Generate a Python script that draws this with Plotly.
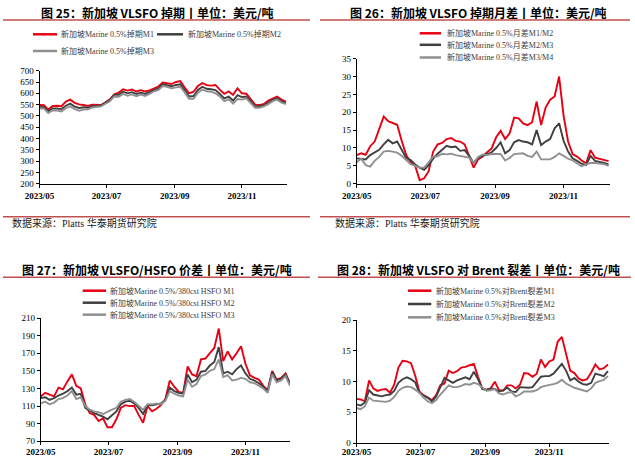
import pandas as pd
import plotly.graph_objects as go

W, H = 635, 457

# ---------------- data ----------------
dates_a = pd.date_range("2023-05-01", periods=57, freq="4D")   # panels 25-27
dates_b = pd.date_range("2023-05-01", periods=61, freq="4D")   # panel 28

tick_vals = ["2023-05-01", "2023-07-01", "2023-09-01", "2023-11-01"]
tick_text = ["2023/05", "2023/07", "2023/09", "2023/11"]

# Fig 25: Singapore VLSFO swaps (USD/t)
p1_m1 = [548, 547, 528, 544, 545, 543, 563, 572, 558, 551,
         548, 544, 550, 548, 548, 560, 573, 596, 603, 618,
         612, 617, 608, 614, 608, 613, 620, 630, 648, 646,
         641, 650, 654, 625, 600, 607, 632, 645, 636, 634,
         637, 615, 598, 608, 593, 622, 600, 598, 572, 550,
         548, 553, 568, 578, 585, 572, 563]
p1_m2 = [540, 539, 520, 533, 533, 530, 545, 554, 541, 535,
         538, 536, 544, 543, 547, 558, 570, 593, 593, 607,
         600, 605, 597, 603, 597, 605, 615, 622, 640, 637,
         631, 637, 640, 613, 586, 588, 615, 629, 620, 618,
         614, 597, 577, 585, 568, 592, 583, 586, 563, 542,
         542, 547, 559, 571, 578, 565, 557]
p1_m3 = [533, 532, 513, 525, 524, 520, 534, 542, 530, 523,
         528, 529, 537, 538, 542, 554, 565, 586, 585, 597,
         589, 595, 587, 594, 588, 597, 609, 614, 632, 629,
         622, 626, 629, 604, 576, 576, 603, 617, 609, 607,
         600, 586, 565, 573, 554, 575, 572, 578, 556, 536,
         536, 542, 552, 565, 572, 559, 552]

# Fig 26: Singapore VLSFO swap time spreads (USD/t)
p2_s12 = [8.0, 8.5, 8.1, 10.5, 11.8, 15.5, 18.8, 17.5, 17.0, 16.5,
          12.0, 8.0, 6.0, 5.0, 1.0, 1.5, 3.5, 9.0, 11.0, 11.4,
          12.5, 12.8, 12.0, 11.8, 11.0, 7.6, 4.5, 6.8, 7.6, 8.8,
          9.9, 13.0, 14.8, 12.5, 14.1, 18.5, 18.3, 16.9, 16.4, 17.2,
          23.0, 16.4, 21.3, 23.5, 24.4, 30.0, 19.0, 11.8, 8.3, 7.6,
          6.5, 5.7, 9.4, 7.3, 7.0, 6.7, 6.3]
p2_s23 = [7.1, 7.0, 6.8, 8.0, 8.7, 9.5, 11.0, 12.3, 11.3, 11.8,
          9.5, 7.2, 6.6, 5.4, 4.5, 3.9, 5.2, 7.0, 8.4, 9.5,
          10.6, 10.2, 10.4, 9.2, 9.4, 7.8, 5.8, 7.2, 7.8, 8.4,
          8.8, 10.0, 11.6, 8.5, 9.4, 11.6, 12.2, 11.8, 11.6, 11.0,
          15.0, 10.8, 11.8, 12.5, 15.5, 16.9, 12.0, 9.0, 7.1, 6.4,
          5.6, 5.2, 7.8, 6.4, 6.2, 5.8, 5.4]
p2_s34 = [6.0, 7.0, 5.2, 4.8, 6.4, 7.5, 9.0, 9.2, 9.0, 8.7,
          7.8, 6.6, 5.5, 5.0, 4.5, 4.5, 6.0, 7.6, 7.7, 8.4,
          8.2, 8.4, 8.0, 7.8, 7.6, 7.3, 5.8, 7.5, 8.2, 8.0,
          8.3, 8.3, 8.3, 6.5, 7.2, 8.3, 8.5, 8.5, 7.8, 7.5,
          9.0, 6.8, 6.8, 6.8, 7.5, 8.5, 7.8, 7.0, 6.5, 5.8,
          4.9, 5.4, 5.8, 5.8, 5.7, 5.5, 5.0]

# Fig 27: Singapore VLSFO/HSFO spread (USD/t)
p3_m1 = [121, 125, 123, 121, 131, 129, 138, 146, 133, 130,
         112, 102, 100, 93, 96, 86, 86, 95, 108, 111,
         110, 110, 100, 91, 110, 104, 107, 111, 118, 139,
         132, 126, 125, 155, 146, 144, 163, 164, 170, 176,
         198, 161, 172, 163, 170, 178, 158, 145, 142, 140,
         133, 128, 150, 140, 142, 147, 136]
p3_m2 = [119, 120, 117, 119, 122, 124, 127, 131, 123, 124,
         108, 105, 102, 100, 98, 95, 100, 104, 112, 115,
         116, 113, 108, 101, 111, 111, 112, 113, 117, 131,
         127, 125, 124, 146, 137, 140, 149, 150, 156, 160,
         177, 147, 149, 146, 152, 156, 147, 141, 139, 136,
         132, 127, 149, 139, 141, 146, 135]
p3_m3 = [113, 115, 112, 114, 118, 119, 122, 127, 118, 120,
         110, 106, 104, 103, 101, 104, 106, 108, 115, 117,
         118, 115, 110, 106, 112, 112, 113, 112, 116, 127,
         124, 122, 121, 140, 132, 135, 144, 146, 150, 152,
         163, 143, 145, 139, 140, 142, 141, 137, 136, 133,
         130, 125, 146, 137, 139, 144, 133]

# Fig 28: Singapore VLSFO crack vs Brent (USD/bbl)
p4_m1 = [7.2, 7.1, 6.8, 10.2, 8.9, 8.5, 8.7, 8.8, 8.2, 9.5,
         12.3, 13.4, 13.3, 13.0, 11.0, 8.4, 7.8, 7.4, 7.0, 7.8,
         9.4, 9.7, 11.8, 11.4, 11.7, 12.3, 12.4, 12.7, 12.9, 10.8,
         8.9, 8.7, 8.9, 10.0, 8.6, 8.5, 9.4, 9.4, 8.9, 9.5,
         11.4, 11.3, 10.8, 11.3, 13.6, 12.4, 13.3, 13.6, 16.5, 17.3,
         14.5, 11.8, 11.4, 10.5, 10.2, 10.4, 11.5, 12.8, 12.0, 12.2,
         12.8]
p4_m2 = [6.3, 6.1, 6.6, 8.6, 7.9, 7.7, 7.6, 7.8, 7.9, 8.5,
         9.8, 10.4, 10.7, 10.4, 9.9, 8.2, 7.7, 7.4, 6.8, 7.6,
         9.2, 10.6, 10.2, 9.8, 10.2, 10.4, 10.7, 10.4, 11.6, 10.4,
         8.8, 8.6, 8.9, 8.8, 8.4, 8.6, 9.0, 8.4, 8.3, 9.1,
         9.0, 9.0, 9.1, 9.9, 10.8, 10.9, 10.9, 11.3, 12.2, 12.9,
         11.8, 10.2, 10.6, 10.0, 9.6, 9.5, 9.8, 11.3, 11.1, 10.9,
         11.7]
p4_m3 = [5.7, 5.5, 6.0, 7.4, 6.9, 6.8, 6.8, 6.7, 6.9, 7.5,
         8.5, 9.0, 9.2, 9.1, 8.7, 8.2, 7.4, 6.8, 6.5, 7.0,
         7.9, 8.7, 9.4, 9.1, 9.1, 9.3, 9.6, 9.5, 9.8, 9.6,
         9.0, 8.5, 8.6, 8.8, 8.1, 7.9, 8.2, 8.3, 7.6, 7.9,
         8.4, 8.4, 8.4, 8.6, 9.1, 9.3, 9.4, 9.6, 9.8, 10.3,
         9.7, 9.3, 9.0, 8.8, 8.6, 8.4, 8.9, 9.8, 10.1, 10.3,
         10.9]

names1 = ["新加坡Marine 0.5%掉期M1", "新加坡Marine 0.5%掉期M2", "新加坡Marine 0.5%掉期M3"]
names2 = ["新加坡Marine 0.5%月差M1/M2", "新加坡Marine 0.5%月差M2/M3", "新加坡Marine 0.5%月差M3/M4"]
names3 = ["新加坡Marine 0.5%/380cst HSFO M1", "新加坡Marine 0.5%/380cst HSFO M2",
          "新加坡Marine 0.5%/380cst HSFO M3"]
names4 = ["新加坡Marine 0.5%对Brent裂差M1", "新加坡Marine 0.5%对Brent裂差M2", "新加坡Marine 0.5%对Brent裂差M3"]

titles = ["图 25：新加坡 VLSFO 掉期丨单位：美元/吨",
          "图 26：新加坡 VLSFO 掉期月差丨单位：美元/吨",
          "图 27：新加坡 VLSFO/HSFO 价差丨单位：美元/吨",
          "图 28：新加坡 VLSFO 对 Brent 裂差丨单位：美元/吨"]
source_text = "数据来源：Platts 华泰期货研究院"

# ---------------- styling ----------------
COLORS = ["#E60012", "#404040", "#909090"]
RULE = "#C0504D"
SERIF = "Liberation Serif, Noto Sans CJK SC, serif"
SANS = "Noto Sans CJK SC, sans-serif"


def px(x):
    return x / W


def py(y):
    return 1 - y / H


panels = [
    dict(xd=(39.5, 287), yd=(70.7, 183.7), xr=["2023-05-01", "2023-12-12"], yr=[200, 700], dt=50,
         dates=dates_a, series=[p1_m1, p1_m2, p1_m3], names=names1, so=0),
    dict(xd=(356.7, 609.7), yd=(58.7, 183.7), xr=["2023-05-01", "2023-12-12"], yr=[0, 35], dt=5,
         dates=dates_a, series=[p2_s12, p2_s23, p2_s34], names=names2, so=0),
    dict(xd=(40.7, 290), yd=(318, 441.3), xr=["2023-05-01", "2023-12-11"], yr=[70, 210], dt=20,
         dates=dates_a, series=[p3_m1, p3_m2, p3_m3], names=names3, so=-1),
    dict(xd=(356.5, 609), yd=(320.3, 443), xr=["2023-05-01", "2023-12-28"], yr=[0, 20], dt=5,
         dates=dates_b, series=[p4_m1, p4_m2, p4_m3], names=names4, so=-3),
]

fig = go.Figure()
layout = {}
for k, p in enumerate(panels, start=1):
    xa = "x" if k == 1 else f"x{k}"
    ya = "y" if k == 1 else f"y{k}"
    for s, nm, c in zip(p["series"], p["names"], COLORS):
        fig.add_trace(go.Scatter(x=p["dates"], y=s, name=nm, mode="lines",
                                 line=dict(color=c, width=1.9), xaxis=xa, yaxis=ya,
                                 showlegend=False))
    layout["xaxis" if k == 1 else f"xaxis{k}"] = dict(
        type="date", domain=[px(p["xd"][0]), px(p["xd"][1])], range=p["xr"], anchor=ya,
        tickvals=tick_vals, ticktext=tick_text, showline=True, linecolor="black", linewidth=1,
        ticks="outside", ticklen=3, tickcolor="black", showgrid=False, zeroline=False,
        automargin=False, ticklabelstandoff=p["so"],
        tickfont=dict(family=SERIF, size=9, color="black", weight="bold"))
    layout["yaxis" if k == 1 else f"yaxis{k}"] = dict(
        domain=[py(p["yd"][1]), py(p["yd"][0])], range=p["yr"], dtick=p["dt"], tick0=p["yr"][0],
        anchor=xa, showline=True, linecolor="black", linewidth=1, ticks="outside", ticklen=3,
        tickcolor="black", showgrid=False, zeroline=False, automargin=False,
        tickfont=dict(family=SERIF, size=9, color="black"))

shapes = []
annotations = []

# rules
for (x0, x1, y) in [(3, 310, 20), (320, 630, 20), (3, 310, 216.7), (320, 630, 216.7),
                    (3, 310, 277.3), (318, 631, 277.3)]:
    shapes.append(dict(type="line", xref="paper", yref="paper", x0=px(x0), x1=px(x1),
                       y0=py(y), y1=py(y), line=dict(color=RULE, width=1.5)))

# titles
for t, (xc, yc) in zip(titles, [(157, 12.7), (478, 12.7), (157, 269.7), (478, 269.7)]):
    annotations.append(dict(text="<b>" + t + "</b>", x=px(xc), y=py(yc), xref="paper", yref="paper",
                            xanchor="center", yanchor="middle", showarrow=False,
                            font=dict(family=SANS, size=12, color="black")))

# sources
for (x, y) in [(10, 222.7), (333, 222.7)]:
    annotations.append(dict(text=source_text, x=px(x), y=py(y), xref="paper", yref="paper",
                            xanchor="left", yanchor="middle", showarrow=False,
                            font=dict(family=SERIF, size=10, color="#222")))

# legends (line x0, line x1, text x, y) for each entry
legend_pos = [
    [(33, 57, 59, 34.3), (157, 183, 186, 34.3), (33, 57, 59, 51)],
    [(419.7, 441, 444.7, 33.3), (419.7, 441, 444.7, 44.8), (419.7, 441, 444.7, 57.5)],
    [(82.7, 106, 108.3, 290.7), (82.7, 106, 108.3, 302.7), (82.7, 106, 108.3, 314.7)],
    [(408, 431.3, 434, 290.7), (408, 431.3, 434, 304), (408, 431.3, 434, 317.3)],
]
for p, poss in zip(panels, legend_pos):
    for nm, c, (lx0, lx1, tx, y) in zip(p["names"], COLORS, poss):
        shapes.append(dict(type="line", xref="paper", yref="paper", x0=px(lx0), x1=px(lx1),
                           y0=py(y), y1=py(y), line=dict(color=c, width=2.5)))
        annotations.append(dict(text=nm, x=px(tx), y=py(y), xref="paper", yref="paper",
                                xanchor="left", yanchor="middle", showarrow=False,
                                font=dict(family=SERIF, size=8, color="#404040")))

fig.update_layout(width=W, height=H, margin=dict(l=0, r=0, t=0, b=0, autoexpand=False),
                  paper_bgcolor="white", plot_bgcolor="white",
                  shapes=shapes, annotations=annotations, **layout)

fig.write_html("out.html")
